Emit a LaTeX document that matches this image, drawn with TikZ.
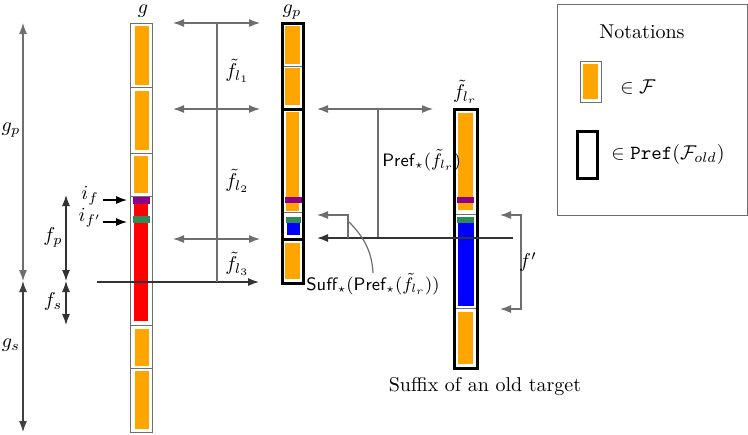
\documentclass[tikz,border=0pt]{standalone}
\usetikzlibrary{arrows.meta}
\definecolor{forange}{HTML}{FFA500}
\definecolor{fred}{HTML}{FF0000}
\definecolor{fblue}{HTML}{0000FF}
\definecolor{fpurple}{HTML}{8B008B}
\definecolor{fgreen}{HTML}{2E8B57}
\definecolor{lgray}{HTML}{6E6E6E}
\begin{document}
\begin{tikzpicture}[x=0.5pt,y=-0.5pt,
  seg/.style={draw=lgray, line width=0.5pt},
  thickbox/.style={draw=black, line width=1.5pt},
  conn/.style={draw=lgray, line width=0.6pt},
  arr/.style={conn,-{Latex[length=5.5pt,width=4pt]}},
  darr/.style={conn,{Latex[length=5.5pt,width=4pt]}-{Latex[length=5.5pt,width=4pt]}},
  lbl/.style={inner sep=0pt},
  sflbl/.style={inner sep=0pt, font=\small}]
\useasboundingbox (0,0) rectangle (748,434);

% ---------------- column g ----------------
\foreach \a/\b in {23/87,87/153,153/196,196/325,325/368,368/432}
  \draw[seg] (130,\a) rectangle (152,\b);
\fill[forange] (135,26) rectangle (149,85);
\fill[forange] (135,91) rectangle (149,150);
\fill[forange] (134,156) rectangle (148,193);
\fill[fred] (134,204) rectangle (148,321);
\fill[fpurple] (133,197) rectangle (150,204);
\fill[fgreen] (133,216) rectangle (150,223);
\fill[forange] (135,329) rectangle (149,366);
\fill[forange] (135,371) rectangle (149,429);
\node[lbl] (lg) at (143,11) {$g$};

% ---------------- column g_p ----------------
\foreach \a/\b in {23/66,66/109,109/212,212/239,239/283}
  \draw[seg] (282,\a) rectangle (303,\b);
\fill[forange] (285,26) rectangle (300,64);
\fill[forange] (285,68) rectangle (300,105);
\fill[forange] (286,112) rectangle (299,211);
\fill[fpurple] (285,197) rectangle (302,203);
\fill[fgreen] (286,217) rectangle (301,223);
\fill[fblue] (287,223) rectangle (300,235);
\fill[forange] (285,243) rectangle (300,279);
\draw[thickbox] (282,23) rectangle (303,109);
\draw[thickbox] (282,109) rectangle (303,239);
\draw[thickbox] (282,239) rectangle (303,283);
\node[lbl] (lgp) at (292,12) {$g_p$};

% ---------------- column f_lr ----------------
\foreach \a/\b in {109/214,214/308,308/368}
  \draw[seg] (454,\a) rectangle (477,\b);
\fill[forange] (458,113) rectangle (473,210);
\fill[fpurple] (457,197) rectangle (474,203);
\fill[fgreen] (457,217) rectangle (474,223);
\fill[fblue] (458,223) rectangle (474,306);
\fill[forange] (458,312) rectangle (473,364);
\draw[thickbox] (454,109) rectangle (477,368);
\node[lbl] (lflr) at (465,92) {$\tilde f_{l_r}$};

% ---------------- left measures ----------------
\coordinate (gpT) at (23,23);
\coordinate (gM) at (23,281);
\coordinate (gsB) at (23,432);
\draw[darr] (gpT) -- (gM);
\draw[darr, draw=black!75] (gM) -- (gsB);
\node[lbl] (ngp) at (11,130) {$g_p$};
\node[lbl] (ngs) at (11,345) {$g_s$};

\coordinate (fpT) at (66,195);
\coordinate (fM) at (66,281);
\coordinate (fsB) at (66,325);
\draw[darr, draw=black!80] (fpT) -- (fM);
\draw[darr, draw=black!80] (fM) -- (fsB);
\node[lbl] (nfp) at (53,237) {$f_p$};
\node[lbl] (nfs) at (53,301) {$f_s$};

\node[lbl] (nif) at (90,196) {$i_f$};
\node[lbl] (nif2) at (90,218) {$i_{f'}$};
\coordinate (ifS) at (103,200); \coordinate (ifE) at (127,200);
\coordinate (if2S) at (103,222); \coordinate (if2E) at (127,222);
\draw[arr, draw=black] (ifS) -- (ifE);
\draw[arr, draw=black] (if2S) -- (if2E);

% ---------------- middle measures ----------------
\coordinate (a1L) at (173,23);  \coordinate (a1R) at (260,23);
\coordinate (a2L) at (173,109); \coordinate (a2R) at (260,109);
\coordinate (a3L) at (173,239); \coordinate (a3R) at (260,239);
\coordinate (hS) at (97,282);   \coordinate (hE) at (259,282);
\coordinate (vT) at (217,23);   \coordinate (vB) at (217,282);
\draw[darr] (a1L) -- (a1R);
\draw[darr] (a2L) -- (a2R);
\draw[darr] (a3L) -- (a3R);
\draw[arr, draw=black!80] (hS) -- (hE);
\draw[conn] (vT) -- (vB);
\node[lbl, anchor=west] (nf1) at (225,71) {$\tilde f_{l_1}$};
\node[lbl, anchor=west] (nf2) at (225,181) {$\tilde f_{l_2}$};
\node[lbl, anchor=west] (nf3) at (225,264) {$\tilde f_{l_3}$};

% ---------------- right measures ----------------
\coordinate (p1L) at (317,109); \coordinate (p1R) at (433,109);
\coordinate (pvT) at (378,109); \coordinate (pvB) at (378,238);
\coordinate (hlS) at (513,238); \coordinate (hlE) at (317,238);
\coordinate (sB) at (348,238); \coordinate (sT) at (348,215); \coordinate (sE) at (317,215);
\draw[darr] (p1L) -- (p1R);
\draw[conn] (pvT) -- (pvB);
\draw[arr, draw=black!80] (hlS) -- (hlE);
\draw[arr] (sB) -- (sT) -- (sE);
\node[sflbl, anchor=west] (npref) at (382,160) {\textsf{Pref}$_\star(\tilde f_{l_r})$};
\node[sflbl] (nsuff) at (373,284) {\textsf{Suff}$_\star$(\textsf{Pref}$_\star$($\tilde f_{l_r}$))};
\coordinate (cS) at (349,222);
\draw[conn] (cS) .. controls (362,235) and (372,250) .. (nsuff.north);

\coordinate (b1) at (500,215); \coordinate (b2) at (521,215);
\coordinate (b3) at (521,309); \coordinate (b4) at (500,309);
\draw[darr] (b1) -- (b2) -- (b3) -- (b4);
\node[lbl] (nfprime) at (528,262) {$f'$};

\node[lbl] (nsuffix) at (485,387) {Suffix of an old target};

% ---------------- legend ----------------
\draw[seg] (557,4) rectangle (747,215);
\node[lbl] (nnot) at (642,32) {Notations};
\draw[seg] (580,61) rectangle (601,102);
\fill[forange] (583,64) rectangle (598,99);
\node[lbl] (nF) at (638,87) {$\in\mathcal{F}$};
\draw[thickbox] (577,131) rectangle (597,178);
\node[lbl] (nPF) at (668,154) {$\in\texttt{Pref}(\mathcal{F}_{old})$};
\end{tikzpicture}
\end{document}
